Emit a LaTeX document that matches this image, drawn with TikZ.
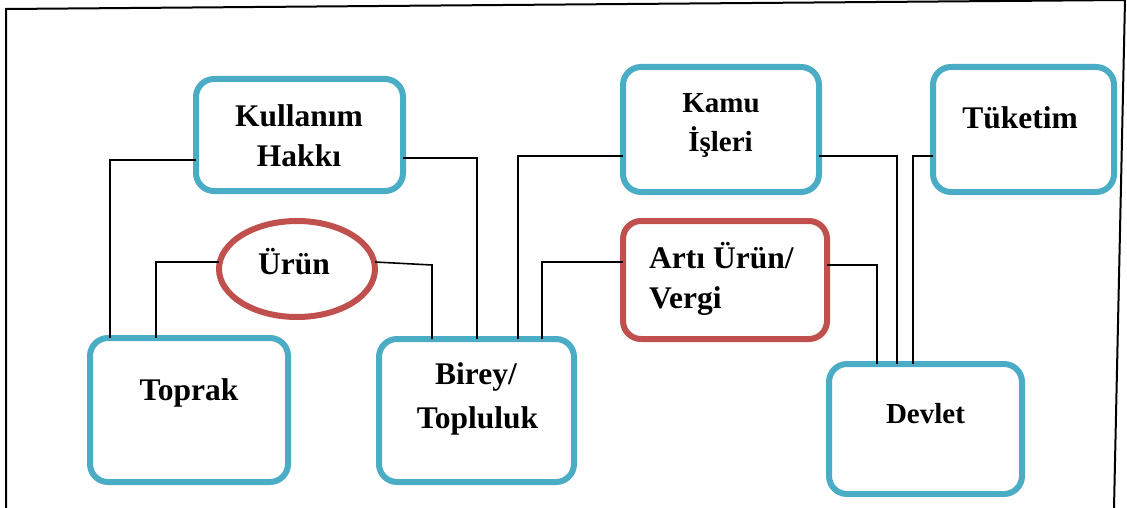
\documentclass[tikz,border=0pt]{standalone}
\usepackage{fontspec}
\setmainfont{Liberation Serif}
\usetikzlibrary{shapes.geometric,calc}
\definecolor{boxblue}{HTML}{4BACC6}
\definecolor{boxred}{HTML}{C0504D}
\tikzset{
  bluebox/.style={draw=boxblue, line width=6pt, rounded corners=18pt, rectangle, outer sep=0pt, inner sep=0pt, fill=white},
  redbox/.style={draw=boxred, line width=6pt, rounded corners=18pt, rectangle, outer sep=0pt, inner sep=0pt, fill=white},
  redoval/.style={draw=boxred, line width=6pt, ellipse, outer sep=0pt, inner sep=0pt, fill=white},
  big/.style={anchor=base, inner sep=0pt, font=\fontsize{31.5}{38}\selectfont\bfseries},
  small/.style={anchor=base, inner sep=0pt, font=\fontsize{29}{35}\selectfont\bfseries},
  conn/.style={draw=black, line width=1.6pt},
  frame/.style={draw=black, line width=2pt}
}
\begin{document}
\begin{tikzpicture}[x=1pt, y=-1pt]
\useasboundingbox (0,0) rectangle (1127,508);
% outer frame
\draw[frame] (6,508) -- (6,9) -- (1125,0) -- (1114,508);

% boxes
\node[bluebox, minimum width=207pt, minimum height=112pt] (kul) at (299.5,135) {};
\node[bluebox, minimum width=196pt, minimum height=125pt] (kamu) at (721,129.5) {};
\node[bluebox, minimum width=181pt, minimum height=125pt] (tuk) at (1023.5,129.5) {};
\node[redoval, minimum width=156pt, minimum height=96pt] (urun) at (297,269) {};
\node[bluebox, minimum width=198pt, minimum height=144pt] (toprak) at (189,410) {};
\node[bluebox, minimum width=195pt, minimum height=143pt] (birey) at (476.5,410.5) {};
\node[redbox, minimum width=204pt, minimum height=118pt] (arti) at (725,280) {};
\node[bluebox, minimum width=193pt, minimum height=130pt] (devlet) at (925.5,429) {};

% texts
\node[big] (kulA) at (299,127) {Kullanım};
\node[big] (kulB) at (299,167) {Hakkı};
\node[small] (kamuA) at (721,113) {Kamu};
\node[small] (kamuB) at (720.5,152) {İşleri};
\node[big] (tukA) at (1020,129) {Tüketim};
\node[big] (urunA) at (294,274) {Ürün};
\node[big] (toprakA) at (189,400) {Toprak};
\node[big] (bireyA) at (476,384) {Birey/};
\node[big] (bireyB) at (477.5,428) {Topluluk};
\node[big, anchor=base west] (artiA) at (649,268) {Artı Ürün/};
\node[big, anchor=base west] (artiB) at (649,308) {Vergi};
\node[small] (devletA) at (925.5,423) {Devlet};

% bend points
\coordinate (k1) at (110,160);
\coordinate (k2) at (477,158);
\coordinate (u1) at (156,262);
\coordinate (u2a) at (378,262);
\coordinate (u2) at (432,265);
\coordinate (m1) at (518,156);
\coordinate (a1) at (542,262);
\coordinate (a2) at (877,265);
\coordinate (m2) at (897,156);
\coordinate (t1) at (913,156);

% connectors
\draw[conn] (kul.west |- k1) -- (k1) -- (toprak.north -| k1);
\draw[conn] (kul.east |- k2) -- (k2) -- (birey.north -| k2);
\draw[conn] (urun.west |- u1) -- (u1) -- (toprak.north -| u1);
\draw[conn] (urun.east |- u2a) -- (u2) -- (birey.north -| u2);
\draw[conn] (kamu.west |- m1) -- (m1) -- (birey.north -| m1);
\draw[conn] (arti.west |- a1) -- (a1) -- (birey.north -| a1);
\draw[conn] (arti.east |- a2) -- (a2) -- (devlet.north -| a2);
\draw[conn] (kamu.east |- m2) -- (m2) -- (devlet.north -| m2);
\draw[conn] (tuk.west |- t1) -- (t1) -- (devlet.north -| t1);
\end{tikzpicture}
\end{document}
